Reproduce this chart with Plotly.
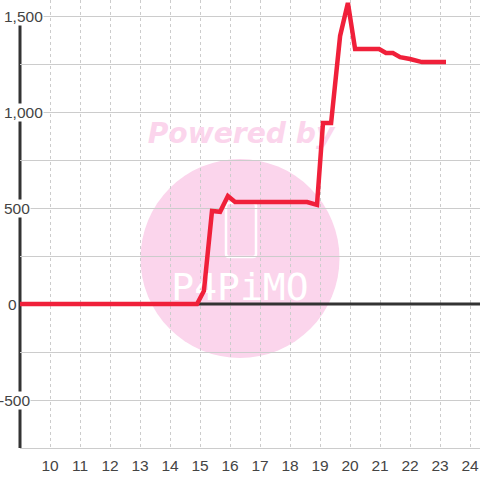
import plotly.graph_objects as go

hours = [9, 14.9, 15.13, 15.4, 15.67, 15.93, 16.17, 18.57, 18.9, 19.1, 19.37, 19.67, 19.93, 20.17, 20.97, 21.2, 21.43, 21.67, 22.0, 22.4, 23.2]
values = [0, 0, 68, 484, 480, 562, 531, 531, 516, 943, 943, 1396, 1568, 1328, 1328, 1307, 1307, 1286, 1276, 1260, 1260]
x_ticks = list(range(10, 25))
y_labels = {1500: "1,500", 1000: "1,000", 500: "500", 0: "0", -500: "-500"}
label_right = {1500: 44, 1000: 44, 500: 31, 0: 18, -500: 31}

W, H = 480, 480
L, B = 20, 32
PH = H - B
XR = [9, 9 + (W - L) / 30]
YR = [-750, 1500 + 16 * 500 / 96]
PINK = "#fbd5ec"
GRID = "#cccccc"
DARK = "#333333"
TXT = "#444444"

def px(v):
    return (v - L) / (W - L)
def py(v):
    return 1 - v / PH
def dx(v):
    return XR[0] + (v - L) / 30
def dy(v):
    return YR[0] + (PH - v) * 500 / 96

fig = go.Figure()

# watermark text, below the data line
fig.add_trace(go.Scatter(x=[dx(241)], y=[dy(136)], mode="text", text=["Powered by"],
    textfont=dict(family="DejaVu Sans", size=28.2, color=PINK, weight="bold", style="italic"),
    hoverinfo="skip", showlegend=False))
fig.add_trace(go.Scatter(x=[dx(240)], y=[dy(290)], mode="text", text=["P4PiMO"],
    textfont=dict(family="DejaVu Sans Mono", size=38, color="white"),
    hoverinfo="skip", showlegend=False))

# zero line
fig.add_trace(go.Scatter(x=XR, y=[0, 0], mode="lines", line=dict(color=DARK, width=3),
    hoverinfo="skip", showlegend=False))

# data line
fig.add_trace(go.Scatter(x=hours, y=values, mode="lines",
    line=dict(color="#f0203a", width=4.5, shape="linear"), showlegend=False))

x0, x1, y0, y1, r = px(226), px(256), py(257), py(203), 3
rx, ry = r / (W - L), r / PH
phone = (f"M {x0+rx} {y0} L {x1-rx} {y0} Q {x1} {y0} {x1} {y0+ry} L {x1} {y1-ry} "
         f"Q {x1} {y1} {x1-rx} {y1} L {x0+rx} {y1} Q {x0} {y1} {x0} {y1-ry} "
         f"L {x0} {y0+ry} Q {x0} {y0} {x0+rx} {y0} Z")

shapes = [
    dict(type="circle", xref="paper", yref="paper", layer="below",
         x0=px(140.5), x1=px(339.5), y0=py(358), y1=py(159),
         fillcolor=PINK, line=dict(width=0)),
    dict(type="path", xref="paper", yref="paper", layer="below", path=phone,
         line=dict(color="white", width=2.5)),
    # left axis line
    dict(type="line", xref="paper", yref="paper", layer="below",
         x0=0, x1=0, y0=0, y1=py(24), line=dict(color=DARK, width=3)),
]

annotations = []
for val, lab in y_labels.items():
    annotations.append(dict(
        xref="paper", yref="y", x=px(label_right[val]), y=val, text=lab, showarrow=False,
        xanchor="right", yanchor="middle", bgcolor="white", borderpad=0,
        font=dict(family="Liberation Sans", size=15.5, color=TXT)))

fig.update_layout(
    width=W, height=H, autosize=False,
    margin=dict(l=L, r=0, t=0, b=B),
    paper_bgcolor="white", plot_bgcolor="white",
    shapes=shapes, annotations=annotations,
    xaxis=dict(range=XR, tickvals=x_ticks, showgrid=True, gridcolor=GRID, griddash="3px,3px",
               gridwidth=1, zeroline=False, showline=True, linecolor=GRID, linewidth=1,
               ticks="", tickfont=dict(family="Liberation Sans", size=15.5, color=TXT), ticklabelstandoff=3),
    yaxis=dict(range=YR, dtick=250, tick0=0, showgrid=True, gridcolor=GRID, gridwidth=1,
               zeroline=False, showticklabels=False, ticks=""),
)

fig.write_html("out.html", config={"displayModeBar": False},
               post_script="document.body.style.margin='0';")
